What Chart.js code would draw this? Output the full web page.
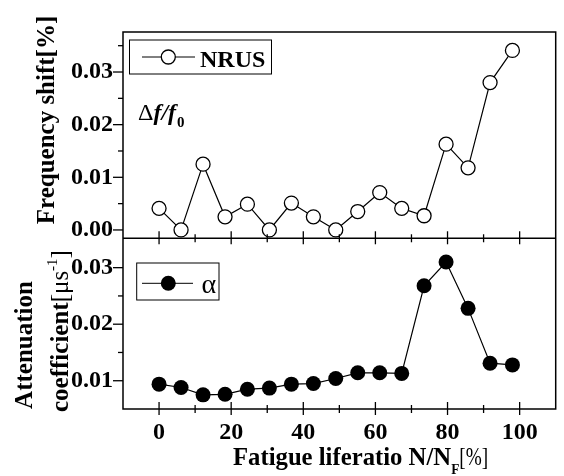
<!DOCTYPE html>
<html>
<head>
<meta charset="utf-8">
<script src="https://cdn.jsdelivr.net/npm/chart.js"></script>
<style>
html, body { margin: 0; padding: 0; background: #fff; }
#wrap { width: 564px; height: 476px; }
</style>
</head>
<body>
<div id="wrap"><canvas id="chart" width="564" height="476"></canvas></div>
<script>
const lifeRatio = [0, 6.1, 12.2, 18.3, 24.5, 30.6, 36.7, 42.8, 49.0, 55.1, 61.2, 67.3, 73.5, 79.6, 85.7, 91.8, 98.0];
const freqShift = [0.0041, 0.0, 0.0125, 0.0025, 0.0049, 0.0, 0.0051, 0.0025, 0.0, 0.0035, 0.0071, 0.0041, 0.0027, 0.0163, 0.0118, 0.0280, 0.0341];
const attenuation = [0.0094, 0.0088, 0.0075, 0.0076, 0.0085, 0.0087, 0.0094, 0.0095, 0.0104, 0.0114, 0.0114, 0.0113, 0.0268, 0.0310, 0.0228, 0.0131, 0.0128];

const xTickLabels = [0, 20, 40, 60, 80, 100];
const xMinorTicks = [10, 30, 50, 70, 90];
const freqTickLabels = [0.00, 0.01, 0.02, 0.03];
const freqMinorTicks = [0.005, 0.015, 0.025, 0.035];
const attTickLabels = [0.01, 0.02, 0.03];
const attMinorTicks = [0.015, 0.025];

const serif = '"Liberation Serif", "Times New Roman", serif';
const tickFont = { family: serif, size: 24, weight: 'bold' };

function toPoints(ys) {
    return lifeRatio.map((x, i) => ({ x: x, y: ys[i] }));
}

function line(c, x1, y1, x2, y2) {
    c.beginPath();
    c.moveTo(x1, y1);
    c.lineTo(x2, y2);
    c.stroke();
}

const framePlugin = {
    id: 'frame',
    afterDraw(chart) {
        const c = chart.ctx;
        const a = chart.chartArea;
        const xs = chart.scales.x, yf = chart.scales.yFreq, ya = chart.scales.yAtt;
        const mid = yf.bottom;
        c.save();
        c.strokeStyle = '#000';
        c.fillStyle = '#000';
        c.lineWidth = 1.5;
        c.strokeRect(a.left, a.top, a.right - a.left, a.bottom - a.top);
        line(c, a.left, mid, a.right, mid);

        // y ticks, outward
        c.lineWidth = 1.3;
        freqTickLabels.forEach(v => { const p = yf.getPixelForValue(v); line(c, a.left - 10, p, a.left, p); });
        freqMinorTicks.forEach(v => { const p = yf.getPixelForValue(v); line(c, a.left - 5, p, a.left, p); });
        attTickLabels.forEach(v => { const p = ya.getPixelForValue(v); line(c, a.left - 10, p, a.left, p); });
        attMinorTicks.forEach(v => { const p = ya.getPixelForValue(v); line(c, a.left - 5, p, a.left, p); });

        // x ticks across the divider and the bottom
        [mid, a.bottom].forEach(yy => {
            xTickLabels.forEach(v => { const p = xs.getPixelForValue(v); line(c, p, yy - 7, p, yy + 6); });
            xMinorTicks.forEach(v => { const p = xs.getPixelForValue(v); line(c, p, yy - 4, p, yy + 4); });
        });

        // legends
        c.lineWidth = 1;
        c.strokeRect(129.5, 40, 142, 34);
        line(c, 142, 57, 195, 57);
        c.beginPath(); c.arc(168.3, 57, 7, 0, Math.PI * 2);
        c.fillStyle = '#fff'; c.fill(); c.lineWidth = 1.3; c.stroke();
        c.fillStyle = '#000';
        c.font = 'bold 24px ' + serif;
        c.textBaseline = 'alphabetic';
        c.textAlign = 'left';
        c.fillText('NRUS', 200, 66.5);

        c.lineWidth = 1;
        c.strokeRect(136.7, 263, 82.3, 37);
        line(c, 142, 283.3, 193, 283.3);
        c.beginPath(); c.arc(168.3, 283.3, 7.5, 0, Math.PI * 2); c.fill();
        c.font = '28px ' + serif;
        c.fillText('α', 201.5, 293);

        // delta f / f0
        c.font = '24px ' + serif;
        c.fillText('Δ', 138, 120);
        let w = c.measureText('Δ').width;
        c.font = 'italic bold 24px ' + serif;
        c.fillText('f/f', 138 + w, 120);
        w += c.measureText('f/f').width;
        c.font = 'bold 15px ' + serif;
        c.fillText('0', 138 + w + 1, 127);

        // y titles
        c.save();
        c.translate(54, 120);
        c.rotate(-Math.PI / 2);
        c.textAlign = 'center';
        c.font = 'bold 25px ' + serif;
        c.fillText('Frequency shift[%]', 0, 0);
        c.restore();

        c.save();
        c.translate(32, 345);
        c.rotate(-Math.PI / 2);
        c.textAlign = 'center';
        c.font = 'bold 25px ' + serif;
        c.fillText('Attenuation', 0, 0);
        c.restore();

        c.save();
        c.translate(68, 412);
        c.rotate(-Math.PI / 2);
        c.textAlign = 'left';
        c.font = 'bold 25px ' + serif;
        c.fillText('coefficient', 0, 0);
        let u = c.measureText('coefficient').width;
        c.font = '25px ' + serif;
        c.fillText('[μs', u, 0);
        u += c.measureText('[μs').width;
        c.font = '15px ' + serif;
        c.fillText('-1', u, -11);
        u += c.measureText('-1').width;
        c.font = '25px ' + serif;
        c.fillText(']', u, 0);
        c.restore();

        // x title, a little condensed like the original
        c.save();
        c.translate(233, 465);
        c.scale(0.95, 1);
        c.font = 'bold 26px ' + serif;
        c.fillText('Fatigue liferatio N/N', 0, 0);
        let t = c.measureText('Fatigue liferatio N/N').width;
        c.font = 'bold 14px ' + serif;
        c.fillText('F', t, 9);
        t += c.measureText('F').width;
        c.translate(t, 0);
        c.scale(0.78, 1);
        c.font = '26px ' + serif;
        c.fillText('[%]', 0, 0);
        c.restore();
        c.restore();
    }
};

new Chart(document.getElementById('chart'), {
    type: 'line',
    data: {
        datasets: [
            {
                label: 'NRUS',
                data: toPoints(freqShift),
                yAxisID: 'yFreq',
                borderColor: '#000',
                borderWidth: 1.2,
                pointRadius: 7,
                pointBackgroundColor: '#fff',
                pointBorderColor: '#000',
                pointBorderWidth: 1.3,
                tension: 0
            },
            {
                label: 'α',
                data: toPoints(attenuation),
                yAxisID: 'yAtt',
                borderColor: '#000',
                borderWidth: 1.2,
                pointRadius: 7.5,
                pointBackgroundColor: '#000',
                pointBorderColor: '#000',
                pointBorderWidth: 0,
                tension: 0
            }
        ]
    },
    options: {
        responsive: false,
        animation: false,
        layout: { padding: { top: 32, right: 1, left: 0, bottom: 0 } },
        plugins: { legend: { display: false }, tooltip: { enabled: false } },
        scales: {
            x: {
                type: 'linear',
                min: -10,
                max: 110,
                afterBuildTicks: s => { s.ticks = xTickLabels.map(v => ({ value: v })); },
                afterFit: s => { s.height = 67; },
                grid: { display: false, drawTicks: false },
                border: { display: false },
                ticks: { padding: 9, color: '#000', font: tickFont, autoSkip: false, maxRotation: 0 }
            },
            yFreq: {
                type: 'linear',
                position: 'left',
                stack: 'panels',
                stackWeight: 206.6,
                weight: 1,
                min: -0.00158,
                max: 0.0376,
                afterBuildTicks: s => { s.ticks = freqTickLabels.map(v => ({ value: v })); },
                afterFit: s => { s.width = 123; },
                grid: { display: false, drawTicks: false },
                border: { display: false },
                ticks: { padding: 10, color: '#000', font: tickFont, callback: v => v.toFixed(2) }
            },
            yAtt: {
                type: 'linear',
                position: 'left',
                stack: 'panels',
                stackWeight: 171,
                weight: 0,
                min: 0.005,
                max: 0.0352,
                afterBuildTicks: s => { s.ticks = attTickLabels.map(v => ({ value: v })); },
                afterFit: s => { s.width = 123; },
                grid: { display: false, drawTicks: false },
                border: { display: false },
                ticks: { padding: 10, color: '#000', font: tickFont, callback: v => v.toFixed(2) }
            }
        }
    },
    plugins: [framePlugin]
});
</script>
</body>
</html>
